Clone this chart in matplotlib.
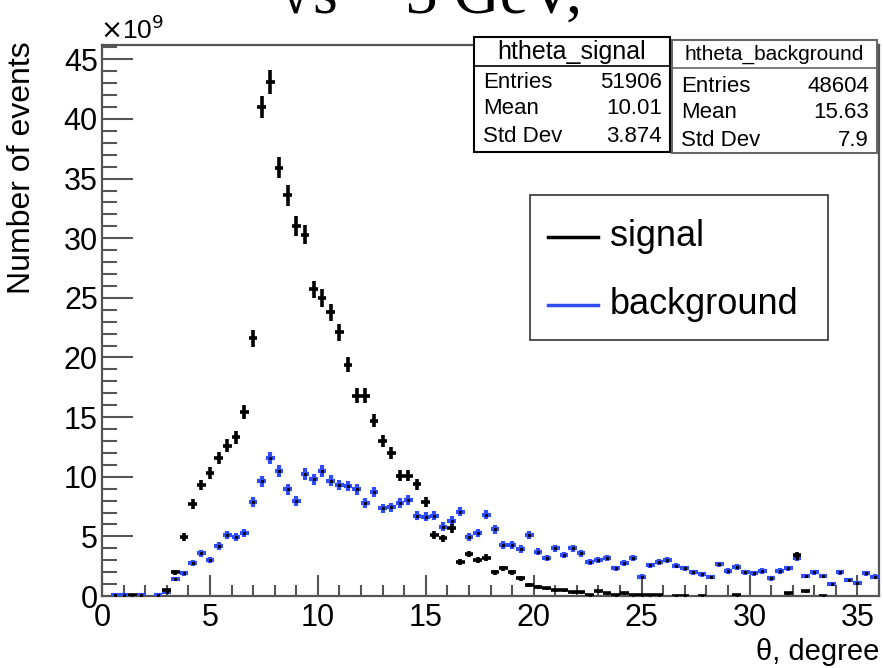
import numpy as np
import matplotlib
matplotlib.use('Agg')
import matplotlib.pyplot as plt
from matplotlib.ticker import MultipleLocator
from matplotlib.patches import Rectangle
from matplotlib.lines import Line2D

plt.rcParams['font.family'] = ['Liberation Sans', 'DejaVu Sans']

# гистограммы theta: 90 бинов по 0.4 градуса, значения в единицах 1e9
bin_edges = np.linspace(0, 36, 91)
signal = [0, 0, 0, 0.05, 0, 0, 0, 0.5, 2.0, 4.92,
          7.69, 9.3, 10.3, 11.6, 12.6, 13.3, 15.4, 21.6, 41.0, 43.1,
          35.9, 33.6, 31.0, 30.3, 25.7, 25.0, 23.8, 22.1, 19.4, 16.8,
          16.8, 14.7, 13.0, 11.96, 10.1, 10.1, 9.36, 7.85, 5.14, 4.83,
          5.67, 2.85, 3.52, 2.99, 3.22, 2.0, 2.32, 2.0, 1.48, 0.92,
          0.78, 0.64, 0.5, 0.5, 0.34, 0.34, 0.08, 0.42, 0.25, 0.1,
          0.25, 0.1, 0.05, 0.05, 0.05, 0, 0.03, 0.03, 0, 0.03,
          0, 0, 0, 0.05, 0, 0, 0, 0, 0, 0.22,
          3.44, 0.44, 0, 0.03, 0, 0, 0, 0, 0, 0]
background = [0, 0.05, 0.05, 0, 0.05, 0, 0.05, 0.3, 1.4, 1.9,
              2.74, 3.58, 3.02, 4.19, 5.11, 4.92, 5.26, 7.9, 9.64, 11.6,
              10.5, 8.94, 7.99, 10.23, 9.78, 10.5, 9.67, 9.3, 9.22, 8.94,
              7.77, 8.72, 7.35, 7.43, 7.82, 8.05, 6.73, 6.65, 6.73, 5.81,
              6.31, 7.07, 4.97, 5.26, 6.82, 5.59, 4.27, 4.27, 3.94, 5.11,
              3.72, 3.16, 4.0, 3.44, 4.0, 3.58, 2.85, 3.02, 3.21, 2.32,
              2.79, 3.21, 1.62, 2.57, 2.88, 3.02, 2.55, 2.32, 2.01, 1.82,
              1.59, 2.65, 2.1, 2.43, 2.01, 1.9, 2.1, 1.48, 2.1, 2.32,
              3.16, 1.68, 2.01, 1.68, 0.98, 2.01, 1.34, 1.06, 1.9, 1.62]

stats_signal = [('Entries', '51906'), ('Mean', '10.01'), ('Std Dev', '3.874')]
stats_background = [('Entries', '48604'), ('Mean', '15.63'), ('Std Dev', '7.9')]

W, H = 883, 668
def fx(px):
    return px / W
def fy(py):
    return 1 - py / H

fig = plt.figure(figsize=(W / 100, H / 100), dpi=100)
ax = fig.add_axes([fx(102), fy(596), fx(879) - fx(102), fy(45) - fy(596)])

centers = 0.5 * (bin_edges[:-1] + bin_edges[1:])
half = 0.5 * (bin_edges[1] - bin_edges[0])
weight = 0.022  # вес события, ошибки как sqrt(N)*w

def draw_hist(vals, color, lw, z):
    vals = np.array(vals)
    m = vals > 0
    err = np.sqrt(vals[m] * weight)
    ax.errorbar(centers[m], vals[m], xerr=half, yerr=err, fmt='none',
                ecolor=color, elinewidth=lw, capsize=0, zorder=z)
    ax.plot(centers[m], vals[m], 's', ms=1.2, color='black', zorder=z + 0.1)

draw_hist(background, '#2f4dfb', 3.0, 3)
draw_hist(signal, 'black', 2.6, 4)

ax.set_xlim(0, 36)
ax.set_ylim(0, 46.2)
ax.xaxis.set_major_locator(MultipleLocator(5))
ax.xaxis.set_minor_locator(MultipleLocator(1))
ax.yaxis.set_major_locator(MultipleLocator(5))
ax.yaxis.set_minor_locator(MultipleLocator(1))
ax.tick_params(axis='both', which='both', direction='in', color='#555555',
               width=1.5, labelsize=22, top=False, right=False)
ax.tick_params(axis='x', which='major', length=15, pad=5)
ax.tick_params(axis='x', which='minor', length=8)
ax.tick_params(axis='y', which='major', length=22, pad=3)
ax.tick_params(axis='y', which='minor', length=11)
for s in ax.spines.values():
    s.set_color('#555555')
    s.set_linewidth(1.6)

# подписи осей прижаты к концам осей
fig.text(fx(22), fy(168), 'Number of events', fontsize=23, rotation=90,
         ha='center', va='center')
fig.text(fx(879), fy(652), 'θ, degree', fontsize=21, ha='right', va='center')
fig.text(fx(100), fy(30), r'$\times$10$^{9}$', fontsize=19, ha='left', va='center')

# заголовок, обрезанный сверху
fig.text(fx(430), fy(14), '√s = 3 GeV,', fontsize=46, ha='center', va='baseline',
         family=['Liberation Serif', 'DejaVu Serif'])

# окна статистики
def stat_box(x0, x1, y0, y1, ydiv, title, tsize, rows, ec, dy0):
    fig.patches.append(Rectangle((fx(x0), fy(y1)), fx(x1) - fx(x0), fy(y0) - fy(y1),
                                 transform=fig.transFigure, fc='white', ec=ec,
                                 lw=1.5, zorder=10))
    fig.lines.append(Line2D([fx(x0), fx(x1)], [fy(ydiv), fy(ydiv)],
                            transform=fig.transFigure, color=ec, lw=1.2, zorder=11))
    fig.text(fx((x0 + x1) / 2), fy((y0 + ydiv) / 2), title, fontsize=tsize,
             ha='center', va='center', zorder=12)
    for i, (name, val) in enumerate(rows):
        y = fy(ydiv + dy0 + 27 * i)
        fig.text(fx(x0 + 9), y, name, fontsize=16, ha='left', va='center', zorder=12)
        fig.text(fx(x1 - 8), y, val, fontsize=16, ha='right', va='center', zorder=12)

stat_box(474, 670, 37, 152, 66, 'htheta_signal', 18, stats_signal, 'black', 16)
stat_box(672, 877, 40, 153, 68, 'htheta_background', 15, stats_background, '#666666', 18)

# легенда
fig.patches.append(Rectangle((fx(530), fy(340)), fx(828) - fx(530), fy(195) - fy(340),
                             transform=fig.transFigure, fc='white', ec='#333333',
                             lw=1.2, zorder=10))
for y, col, name in [(237, 'black', 'signal'), (305, '#2f4dfb', 'background')]:
    fig.lines.append(Line2D([fx(548), fx(598)], [fy(y), fy(y)],
                            transform=fig.transFigure, color=col, lw=2.5, zorder=11))
    fig.text(fx(610), fy(y), name, fontsize=26, ha='left', va='center', zorder=12)

fig.savefig('out.png', dpi=100)
